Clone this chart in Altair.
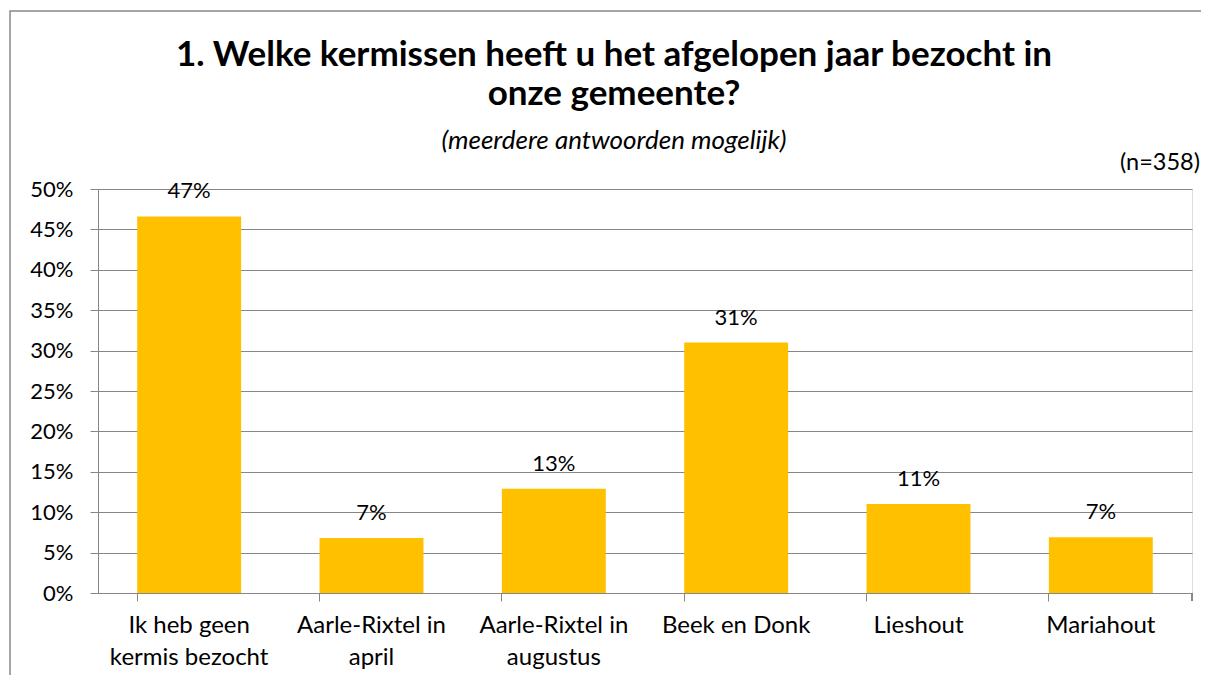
import altair as alt
import pandas as pd

categories = ["Ik heb geen kermis bezocht", "Aarle-Rixtel in april", "Aarle-Rixtel in augustus",
              "Beek en Donk", "Lieshout", "Mariahout"]
label_lines = ["Ik heb geen\nkermis bezocht", "Aarle-Rixtel in\napril", "Aarle-Rixtel in\naugustus",
               "Beek en Donk", "Lieshout", "Mariahout"]
values = [0.466, 0.068, 0.129, 0.310, 0.110, 0.069]
y_ticks = [0, 0.05, 0.10, 0.15, 0.20, 0.25, 0.30, 0.35, 0.40, 0.45, 0.50]
title_lines = ["1. Welke kermissen heeft u het afgelopen jaar bezocht in", "onze gemeente?"]
subtitle = "(meerdere antwoorden mogelijk)"
n_label = "(n=358)"

df = pd.DataFrame({"cat": label_lines, "value": values})

W, H = 1094, 404
FONT = "Lato"
GRID = "#868686"
CX = 516  # centre of the chart box, relative to the plot's left edge

x_enc = alt.X("cat:N", sort=label_lines,
              scale=alt.Scale(paddingInner=0.43, paddingOuter=0.215),
              axis=alt.Axis(title=None, labelExpr="split(datum.label, '\\n')",
                            labelFont=FONT, labelFontSize=24, labelColor="black",
                            labelLineHeight=32, labelPadding=12, labelAngle=0,
                            domainColor=GRID, tickColor=GRID, tickSize=8,
                            bandPosition=0, grid=False))
y_enc = alt.Y("value:Q", scale=alt.Scale(domain=[0, 0.5], nice=False),
              axis=alt.Axis(title=None, values=y_ticks, format=".0%",
                            labelFont=FONT, labelFontSize=22, labelColor="black",
                            labelPadding=17, domainColor=GRID, tickColor=GRID, tickSize=8,
                            gridColor=GRID, gridWidth=1.2))

bars = alt.Chart(df).mark_bar(color="#FFC000").encode(x=x_enc, y=y_enc)
labels = alt.Chart(df).mark_text(font=FONT, fontSize=22, color="black",
                                 baseline="bottom", dy=-13).encode(
    x=alt.X("cat:N", sort=label_lines), y="value:Q", text=alt.Text("value:Q", format=".0%"))

end_tick = alt.Chart(df).mark_rule(color=GRID).encode(
    x=alt.value(W), y=alt.value(H), y2=alt.value(H + 8))

one = pd.DataFrame({"t": [1]})
n_text = alt.Chart(pd.DataFrame({"t": [n_label]})).mark_text(
    font=FONT, fontSize=23.5, color="black", align="right", baseline="alphabetic").encode(
    x=alt.value(W + 8), y=alt.value(-19), text="t:N")

t1 = alt.Chart(pd.DataFrame({"t": [title_lines[0]]})).mark_text(
    font=FONT, fontSize=35, fontWeight="bold", color="black", align="center",
    baseline="alphabetic").encode(x=alt.value(CX), y=alt.value(-123), text="t:N")
t2 = alt.Chart(pd.DataFrame({"t": [title_lines[1]]})).mark_text(
    font=FONT, fontSize=35, fontWeight="bold", color="black", align="center",
    baseline="alphabetic").encode(x=alt.value(CX), y=alt.value(-84), text="t:N")
t3 = alt.Chart(pd.DataFrame({"t": [subtitle]})).mark_text(
    font=FONT, fontSize=26, fontStyle="italic", color="black", align="center",
    baseline="alphabetic").encode(x=alt.value(CX), y=alt.value(-40), text="t:N")

border = alt.Chart(one).mark_rect(
    fill=None, stroke="#888888", strokeWidth=1.5).encode(
    x=alt.value(-88), x2=alt.value(W + 40), y=alt.value(-178), y2=alt.value(H + 140))

chart = alt.layer(border, bars, labels, end_tick, n_text, t1, t2, t3).properties(
    width=W, height=H,
    padding={"left": 90, "top": 181, "right": 9, "bottom": 82},
    autosize=alt.AutoSizeParams(type="none"),
).configure_view(stroke=None).configure(background="white")

chart.save("out.html", embed_options={"renderer": "svg", "actions": False})
